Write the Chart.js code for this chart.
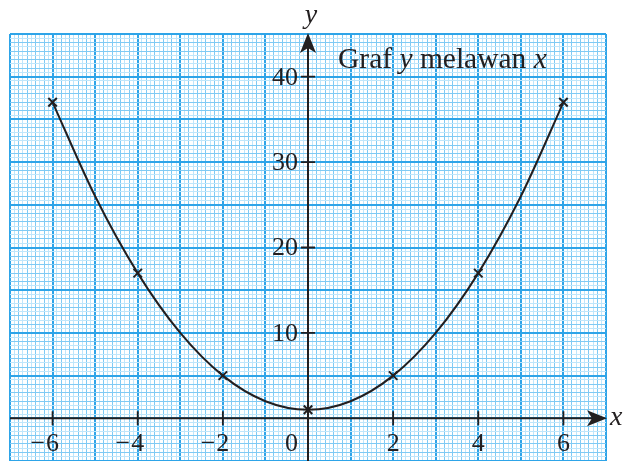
<!DOCTYPE html>
<html>
<head>
<meta charset="utf-8">
<script src="https://cdn.jsdelivr.net/npm/chart.js@4.4.0/dist/chart.umd.min.js"></script>
<style>
  html, body { margin: 0; padding: 0; background: #fff; }
  canvas { display: block; }
</style>
</head>
<body>
<canvas id="graf" width="623" height="461"></canvas>
<script>
// Curve y against x, read at every whole x
const curveX = [-6, -5, -4, -3, -2, -1, 0, 1, 2, 3, 4, 5, 6];
const curveY = [37, 26, 17, 10, 5, 2, 1, 2, 5, 10, 17, 26, 37];

// Plotted points (crosses)
const markX = [-6, -4, -2, 0, 2, 4, 6];
const markY = [37, 17, 5, 1, 5, 17, 37];

// Axis tick labels
const xTickLabels = [-6, -4, -2, 2, 4, 6];
const yTickLabels = [10, 20, 30, 40];

const INK = '#231f20';
const SERIF = '"Liberation Serif", "Times New Roman", serif';

// Graph paper line colours
const MAJOR = '#2ea4e8';
const MID = '#7fcaf4';
const MINOR = '#bfe6fb';

const isMultiple = (v, step) => Math.abs(v / step - Math.round(v / step)) < 1e-6;

function paperGrid(major, mid) {
    return {
        drawTicks: false,
        color: ctx => {
            const v = ctx.tick.value;
            if (isMultiple(v, major)) return MAJOR;
            if (isMultiple(v, mid)) return MID;
            return MINOR;
        },
        lineWidth: ctx => isMultiple(ctx.tick.value, major) ? 2 : 1
    };
}

const minus = n => n < 0 ? '\u2212' + Math.abs(n) : String(n);

// Axes with arrows, tick marks, labels and the title
const axesPlugin = {
    id: 'axes',
    beforeDatasetsDraw(chart) {
        const { ctx, chartArea, scales: { x, y } } = chart;
        const x0 = x.getPixelForValue(0);
        const y0 = y.getPixelForValue(0);
        ctx.save();
        ctx.strokeStyle = INK;
        ctx.fillStyle = INK;
        ctx.lineWidth = 2;

        // x axis
        ctx.beginPath();
        ctx.moveTo(chartArea.left, y0);
        ctx.lineTo(chartArea.right - 14, y0);
        ctx.stroke();
        ctx.beginPath();
        ctx.moveTo(chartArea.right + 1, y0);
        ctx.lineTo(chartArea.right - 19, y0 - 8);
        ctx.lineTo(chartArea.right - 14, y0);
        ctx.lineTo(chartArea.right - 19, y0 + 8);
        ctx.closePath();
        ctx.fill();

        // y axis
        ctx.beginPath();
        ctx.moveTo(x0, chartArea.bottom);
        ctx.lineTo(x0, chartArea.top + 14);
        ctx.stroke();
        ctx.beginPath();
        ctx.moveTo(x0, chartArea.top - 1);
        ctx.lineTo(x0 - 8, chartArea.top + 19);
        ctx.lineTo(x0, chartArea.top + 14);
        ctx.lineTo(x0 + 8, chartArea.top + 19);
        ctx.closePath();
        ctx.fill();

        // tick marks
        ctx.lineWidth = 1.8;
        ctx.beginPath();
        xTickLabels.forEach(v => {
            const px = x.getPixelForValue(v);
            ctx.moveTo(px, y0 - 7);
            ctx.lineTo(px, y0 + 7);
        });
        yTickLabels.forEach(v => {
            const py = y.getPixelForValue(v);
            ctx.moveTo(x0 - 7, py);
            ctx.lineTo(x0 + 7, py);
        });
        ctx.stroke();

        // tick labels
        ctx.font = '26px ' + SERIF;
        ctx.textBaseline = 'alphabetic';
        xTickLabels.forEach(v => {
            const px = x.getPixelForValue(v);
            const digits = String(Math.abs(v));
            const dw = ctx.measureText(digits).width;
            ctx.textAlign = 'left';
            if (v < 0) {
                ctx.fillText('\u2212', px - dw / 2 - ctx.measureText('\u2212').width - 1, y0 + 33);
            }
            ctx.fillText(digits, px - dw / 2, y0 + 33);
        });
        ctx.textAlign = 'right';
        ctx.fillText('0', x0 - 10, y0 + 33);
        ctx.textBaseline = 'middle';
        yTickLabels.forEach(v => {
            ctx.fillText(minus(v), x0 - 10, y.getPixelForValue(v) + 1);
        });

        // axis names
        ctx.textBaseline = 'alphabetic';
        ctx.textAlign = 'center';
        ctx.font = 'italic 28px ' + SERIF;
        ctx.fillText('y', x0 + 3, 23);
        ctx.textAlign = 'left';
        ctx.fillText('x', chartArea.right + 4, y0 + 7);

        // title
        const parts = [['Graf ', false], ['y', true], [' melawan ', false], ['x', true]];
        let tx = 338;
        parts.forEach(([t, it]) => {
            ctx.font = (it ? 'italic ' : '') + '29.5px ' + SERIF;
            ctx.fillText(t, tx, 68);
            tx += ctx.measureText(t).width;
        });
        ctx.restore();
    }
};

new Chart(document.getElementById('graf'), {
    type: 'line',
    data: {
        datasets: [
            {
                data: curveX.map((v, i) => ({ x: v, y: curveY[i] })),
                borderColor: INK,
                borderWidth: 2,
                pointRadius: 0,
                cubicInterpolationMode: 'monotone',
                fill: false
            },
            {
                data: markX.map((v, i) => ({ x: v, y: markY[i] })),
                showLine: false,
                pointStyle: 'crossRot',
                pointRadius: 6,
                pointBorderWidth: 2,
                pointBorderColor: INK
            }
        ]
    },
    options: {
        responsive: false,
        animation: false,
        events: [],
        // no auto padding: the paper runs right down to the bottom edge
        layout: { autoPadding: false, padding: { left: 10, right: 17, top: 34, bottom: 0 } },
        plugins: {
            legend: { display: false },
            tooltip: { enabled: false }
        },
        scales: {
            x: {
                type: 'linear',
                min: -7,
                max: 7,
                border: { display: false },
                ticks: { display: false, stepSize: 0.1 },
                grid: paperGrid(1, 0.2),
                afterFit: s => { s.height = 0; }
            },
            y: {
                type: 'linear',
                min: -5,
                max: 45,
                border: { display: false },
                ticks: { display: false, stepSize: 0.5 },
                grid: paperGrid(5, 1),
                afterFit: s => { s.width = 0; }
            }
        }
    },
    plugins: [axesPlugin]
});
</script>
</body>
</html>
